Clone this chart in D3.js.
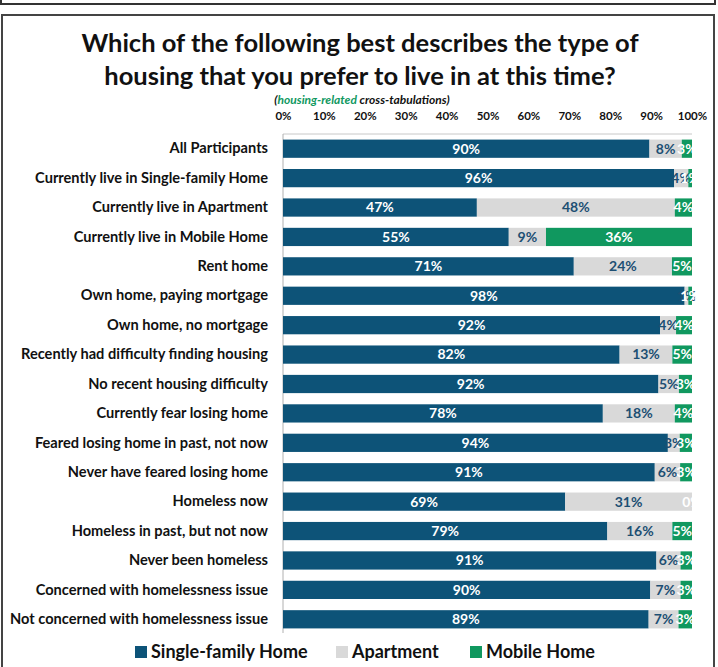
<!DOCTYPE html>
<html>
<head>
<meta charset="utf-8">
<script src="https://d3js.org/d3.v7.min.js"></script>
<style>
body { margin: 0; background: #fff; font-family: Lato, "Open Sans", sans-serif; }
</style>
</head>
<body>
<div id="chart"></div>
<script>

// categories (top to bottom)
var categories = [
  "All Participants",
  "Currently live in Single-family Home",
  "Currently live in Apartment",
  "Currently live in Mobile Home",
  "Rent home",
  "Own home, paying mortgage",
  "Own home, no mortgage",
  "Recently had difficulty finding housing",
  "No recent housing difficulty",
  "Currently fear losing home",
  "Feared losing home in past, not now",
  "Never have feared losing home",
  "Homeless now",
  "Homeless in past, but not now",
  "Never been homeless",
  "Concerned with homelessness issue",
  "Not concerned with homelessness issue"
];

// percentages
var singleFamily = [89.6, 95.6, 47.4, 55.2, 71.1, 98.2, 92.2, 82.3, 91.8, 78.2, 94.1, 90.9, 69.0, 79.3, 91.3, 89.8, 89.4];
var apartment    = [7.9, 3.5, 48.4, 9.1, 24.0, 0.9, 3.9, 12.9, 5.0, 17.6, 2.9, 6.2, 31.0, 15.9, 5.9, 7.4, 7.3];
var mobileHome   = [2.5, 0.9, 4.2, 35.7, 4.9, 0.9, 3.9, 4.8, 3.2, 4.2, 3.0, 2.9, 0.0, 4.8, 2.8, 2.8, 3.3];

var seriesNames = ["Single-family Home", "Apartment", "Mobile Home"];
var tickValues = [0, 10, 20, 30, 40, 50, 60, 70, 80, 90, 100];

var colors = ["#0d5378", "#d9d9d9", "#10985f"];
var labelColors = ["#ffffff", "#1d4f73", "#ffffff"];

var width = 718, height = 667;

var svg = d3.select("#chart").append("svg")
  .attr("width", width)
  .attr("height", height);

// frames
svg.append("rect")
  .attr("x", 1).attr("y", -10).attr("width", 714).attr("height", 14)
  .attr("fill", "none").attr("stroke", "#333").attr("stroke-width", 2);
svg.append("rect")
  .attr("x", 2).attr("y", 15).attr("width", 712).attr("height", 670)
  .attr("fill", "none").attr("stroke", "#444").attr("stroke-width", 2);

// title
var title = svg.append("text")
  .attr("text-anchor", "middle")
  .attr("font-weight", "bold")
  .attr("font-size", 25.5)
  .attr("fill", "#111");
title.append("tspan").attr("x", 360).attr("y", 52).text("Which of the following best describes the type of");
title.append("tspan").attr("x", 360).attr("y", 85).text("housing that you prefer to live in at this time?");

var sub = svg.append("text")
  .attr("x", 362).attr("y", 104)
  .attr("text-anchor", "middle")
  .attr("font-weight", "bold")
  .attr("font-style", "italic")
  .attr("font-size", 12)
  .attr("fill", "#111");
sub.append("tspan").text("(");
sub.append("tspan").attr("fill", "#10985f").text("housing-related");
sub.append("tspan").text(" cross-tabulations)");

var x = d3.scaleLinear().domain([0, 100]).range([283, 692]);
var y = d3.scaleBand().domain(categories).range([134, 634]).paddingInner(0.38).paddingOuter(0.19);

// top axis
var xAxis = d3.axisTop(x).tickValues(tickValues).tickSize(0).tickFormat(function(d) { return d + "%"; });
var gx = svg.append("g").attr("transform", "translate(0,123)").call(xAxis);
gx.select(".domain").remove();
gx.selectAll("text")
  .attr("font-family", "Lato, sans-serif")
  .attr("font-weight", "bold")
  .attr("font-size", 11.5)
  .attr("fill", "#111");

// plot frame
svg.append("line")
  .attr("x1", x(0)).attr("x2", x(100)).attr("y1", 134).attr("y2", 134)
  .attr("stroke", "#c8c8c8");
svg.append("line")
  .attr("x1", x(0)).attr("x2", x(0)).attr("y1", 134).attr("y2", 633)
  .attr("stroke", "#b0b0b0");

// category labels
var yAxis = d3.axisLeft(y).tickSize(0).tickPadding(15);
var gy = svg.append("g").attr("transform", "translate(" + x(0) + ",0)").call(yAxis);
gy.select(".domain").remove();
gy.selectAll("text")
  .attr("font-family", "Lato, sans-serif")
  .attr("font-weight", "bold")
  .attr("font-size", 14.6)
  .attr("fill", "#111");

// stacked data
var rows = categories.map(function(c, i) {
  return { cat: c, v: [singleFamily[i], apartment[i], mobileHome[i]] };
});

rows.forEach(function(r) {
  var start = 0;
  r.v.forEach(function(v, k) {
    var g = svg.append("g");
    g.append("rect")
      .attr("x", x(start))
      .attr("y", y(r.cat))
      .attr("width", x(start + v) - x(start))
      .attr("height", y.bandwidth())
      .attr("fill", colors[k]);
    g.append("text")
      .attr("x", (x(start) + x(start + v)) / 2)
      .attr("y", y(r.cat) + y.bandwidth() / 2)
      .attr("dy", "0.35em")
      .attr("text-anchor", "middle")
      .attr("font-weight", "bold")
      .attr("font-size", 14)
      .attr("fill", labelColors[k])
      .text(Math.round(v) + "%");
    start += v;
  });
});

// legend
var legendX = [135, 336, 470];
var legend = svg.append("g").selectAll("g")
  .data(seriesNames)
  .enter().append("g")
  .attr("transform", function(d, i) { return "translate(" + legendX[i] + ",652)"; });
legend.append("rect")
  .attr("x", 0).attr("y", -6).attr("width", 12).attr("height", 12)
  .attr("fill", function(d, i) { return colors[i]; });
legend.append("text")
  .attr("x", 16).attr("dy", "0.35em")
  .attr("font-weight", "bold")
  .attr("font-size", 18)
  .attr("fill", "#111")
  .text(function(d) { return d; });

</script>
</body>
</html>
